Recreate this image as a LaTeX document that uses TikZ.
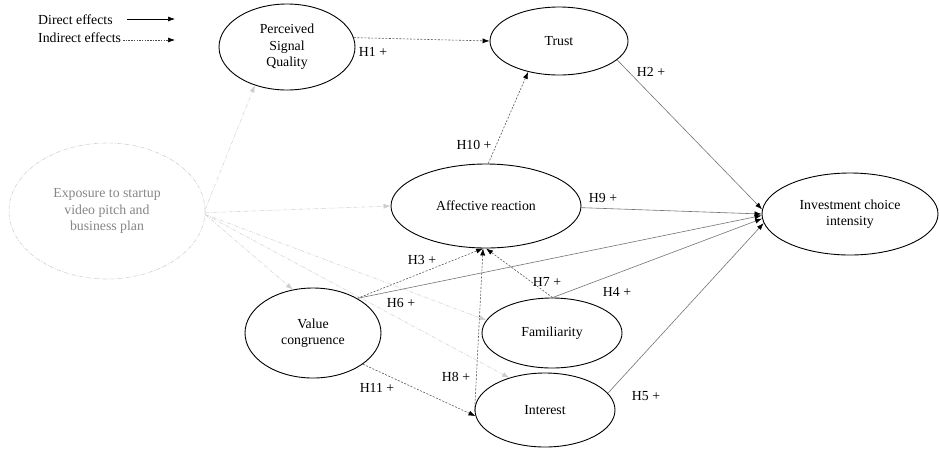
\documentclass[tikz,border=0pt]{standalone}
\usepackage{fontspec}
\setmainfont{Liberation Serif}
\usetikzlibrary{shapes.geometric,arrows.meta}

\begin{document}
\begin{tikzpicture}[x=1pt,y=-1pt,
  txt/.style={font=\fontsize{13.8}{16.5}\selectfont},
  construct/.style={ellipse, draw=black, line width=0.9pt, inner sep=0pt,
    align=center, txt},
  faded/.style={ellipse, draw=black!18, line width=0.6pt, inner sep=0pt,
    align=center, txt, text=black!48,
    dash pattern=on 4pt off 1.5pt on 0.8pt off 1.5pt},
  hyp/.style={txt, inner sep=0pt},
  tip/.style={-{Latex[length=7pt,width=5pt,black]}},
  direct/.style={tip, draw=black!55, line width=0.6pt},
  indirect/.style={tip, draw=black!65, line width=0.6pt,
    dash pattern=on 2pt off 1.5pt},
  exposure/.style={-{Latex[length=7pt,width=5pt,black!20]}, draw=black!16,
    line width=0.6pt, dash pattern=on 4pt off 1.5pt on 0.8pt off 1.5pt},
]
\useasboundingbox (0,0) rectangle (939,448);

% legend
\node[hyp, anchor=west] (legd) at (38,20) {Direct effects};
\node[hyp, anchor=west] (legi) at (38,38) {Indirect effects};
\coordinate (legdstart) at (127,19);
\coordinate (legdend) at (175,19);
\coordinate (legistart) at (123,40);
\coordinate (legiend) at (175,40);
\draw[tip, draw=black, line width=0.6pt] (legdstart) -- (legdend);
\draw[tip, draw=black!70, line width=0.6pt, dash pattern=on 1.5pt off 1.2pt] (legistart) -- (legiend);

% constructs
\node[construct, minimum width=136pt, minimum height=86pt] (psq) at (287,47) {Perceived\\Signal\\Quality};
\node[construct, minimum width=138pt, minimum height=68pt] (trust) at (559,41) {Trust};
\node[faded, minimum width=196pt, minimum height=136pt] (exp) at (107,211) {Exposure to startup\\video pitch and\\business plan};
\node[construct, minimum width=190pt, minimum height=84pt] (aff) at (486,206) {Affective reaction};
\node[construct, minimum width=176pt, minimum height=82pt] (inv) at (850,214) {Investment choice\\intensity};
\node[construct, minimum width=136pt, minimum height=90pt] (vc) at (313,333) {Value\\congruence};
\node[construct, minimum width=140pt, minimum height=70pt] (fam) at (552,333) {Familiarity};
\node[construct, minimum width=140pt, minimum height=74pt] (int) at (545,410) {Interest};

% exposure paths
\draw[exposure] (exp.1) -- (psq.230);
\draw[exposure] (exp.-1) -- (aff.west);
\draw[exposure] (exp.-2) -- (vc.115);
\draw[exposure] (exp.-2) -- (fam.169);
\draw[exposure] (exp.-2) -- (int.138);

% indirect paths
\draw[indirect] (psq.8) -- (trust.west);
\draw[indirect] (aff.87) -- (trust.225);
\draw[indirect] (vc.38) -- (aff.266);
\draw[indirect] (fam.89) -- (aff.270);
\draw[indirect] (int.181) -- (aff.266);
\draw[indirect] (vc.-32) -- (int.185);

% direct paths
\draw[direct] (trust.-18) -- (inv.177);
\draw[direct] (aff.-1) -- (inv.180);
\draw[direct] (vc.38) -- (inv.181);
\draw[direct] (fam.89) -- (inv.183);
\draw[direct] (int.15) -- (inv.186);

% hypothesis labels
\node[hyp] (h1) at (373,52) {H1 +};
\node[hyp] (h2) at (651,72) {H2 +};
\node[hyp] (h10) at (474,145) {H10 +};
\node[hyp] (h9) at (603,198) {H9 +};
\node[hyp] (h3) at (422,260) {H3 +};
\node[hyp] (h7) at (547,282) {H7 +};
\node[hyp] (h4) at (617,292) {H4 +};
\node[hyp] (h6) at (401,303) {H6 +};
\node[hyp] (h11) at (377,388) {H11 +};
\node[hyp] (h8) at (456,377) {H8 +};
\node[hyp] (h5) at (646,396) {H5 +};
\end{tikzpicture}
\end{document}
